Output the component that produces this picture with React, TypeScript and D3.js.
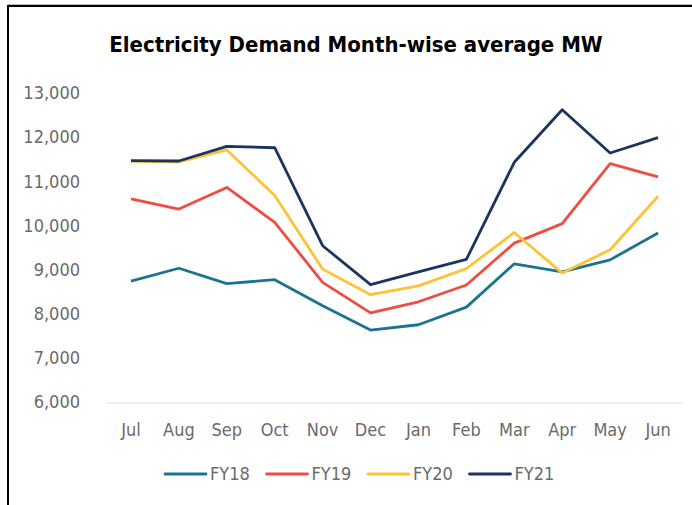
import React, { useEffect, useRef } from 'react'
import * as d3 from 'd3'

const months = ['Jul', 'Aug', 'Sep', 'Oct', 'Nov', 'Dec', 'Jan', 'Feb', 'Mar', 'Apr', 'May', 'Jun']
const seriesNames = ['FY18', 'FY19', 'FY20', 'FY21']
const seriesColors = ['#1b7391', '#f04c43', '#fec334', '#1a355e']

const fy18 = [8740, 9030, 8680, 8770, 8180, 7630, 7750, 8150, 9130, 8950, 9220, 9830]
const fy19 = [10600, 10370, 10860, 10070, 8710, 8020, 8270, 8650, 9600, 10040, 11400, 11100]
const fy20 = [11450, 11440, 11710, 10680, 9010, 8430, 8630, 9020, 9840, 8920, 9450, 10660]
const fy21 = [11470, 11460, 11790, 11760, 9540, 8660, 8950, 9230, 11430, 12620, 11640, 11990]

const yTicks = [6000, 7000, 8000, 9000, 10000, 11000, 12000, 13000]

const W = 692
const H = 505
const font = "'DejaVu Sans Condensed', 'Liberation Sans', sans-serif"
const textGray = '#6a6a6a'

export default function App() {
  const svgRef = useRef<SVGSVGElement>(null)

  useEffect(() => {
    const svg = d3.select(svgRef.current)
    svg.selectAll('*').remove()

    const left = 107, right = 682, top = 93, bottom = 402

    const x = d3.scaleBand().domain(months).range([left, right])
    const y = d3.scaleLinear().domain([6000, 13000]).range([bottom, top])

    // frame (left + top edges only)
    svg.append('line').attr('x1', 8).attr('x2', W).attr('y1', 4.5).attr('y2', 4.5)
      .attr('stroke', '#bbb').attr('stroke-width', 1)
    svg.append('line').attr('x1', 8).attr('x2', W).attr('y1', 6).attr('y2', 6)
      .attr('stroke', '#000').attr('stroke-width', 2)
    svg.append('line').attr('x1', 8).attr('x2', 8).attr('y1', 5).attr('y2', H)
      .attr('stroke', '#000').attr('stroke-width', 2)

    svg.append('text')
      .attr('x', 356).attr('y', 52)
      .attr('text-anchor', 'middle')
      .attr('font-family', font)
      .attr('font-weight', 'bold')
      .attr('font-size', 22)
      .attr('fill', '#000')
      .text('Electricity Demand Month-wise average MW')

    // y labels
    svg.append('g').selectAll('text').data(yTicks).join('text')
      .attr('x', 80).attr('y', d => y(d))
      .attr('dy', '0.35em')
      .attr('text-anchor', 'end')
      .attr('font-family', font)
      .attr('font-size', 18)
      .attr('fill', textGray)
      .text(d => d3.format(',')(d))

    // baseline
    svg.append('line').attr('x1', left).attr('x2', right).attr('y1', bottom + 1).attr('y2', bottom + 1)
      .attr('stroke', '#d9d9d9').attr('stroke-width', 1)

    // x labels
    svg.append('g').selectAll('text').data(months).join('text')
      .attr('x', d => x(d)! + x.bandwidth() / 2).attr('y', 430)
      .attr('dy', '0.35em')
      .attr('text-anchor', 'middle')
      .attr('font-family', font)
      .attr('font-size', 18)
      .attr('fill', textGray)
      .text(d => d)

    const allSeries = [fy18, fy19, fy20, fy21]
    const line = d3.line<number>()
      .x((_, i) => x(months[i])! + x.bandwidth() / 2)
      .y(d => y(d))

    allSeries.forEach((vals, k) => {
      svg.append('path')
        .datum(vals)
        .attr('d', line)
        .attr('fill', 'none')
        .attr('stroke', seriesColors[k])
        .attr('stroke-width', 2.8)
        .attr('stroke-linejoin', 'round')
    })

    // legend
    const lg = svg.append('g').selectAll('g').data(seriesNames).join('g')
      .attr('transform', (_, i) => `translate(${165 + i * 101.5},474)`)
    lg.append('line').attr('x1', 0).attr('x2', 41).attr('y1', 0).attr('y2', 0)
      .attr('stroke', (_, i) => seriesColors[i]).attr('stroke-width', 2.8)
      .attr('stroke-linecap', 'round')
    lg.append('text').attr('x', 45).attr('y', 0).attr('dy', '0.35em')
      .attr('font-family', font).attr('font-size', 18).attr('fill', textGray)
      .text(d => d)
  }, [])

  return (
    <svg ref={svgRef} width={W} height={H}
      style={{ position: 'absolute', left: 0, top: 0, background: '#fff' }} />
  )
}
